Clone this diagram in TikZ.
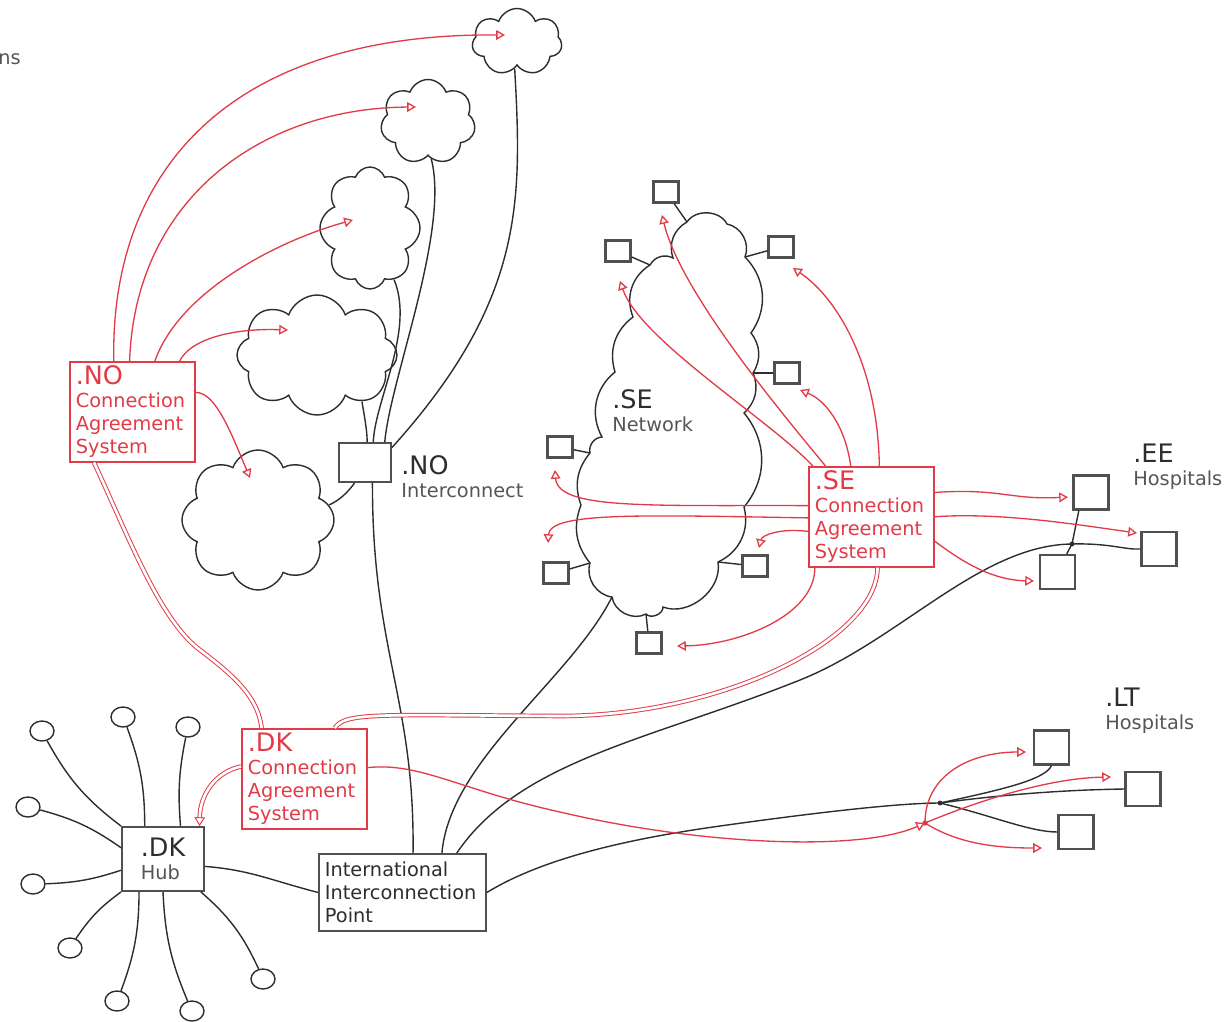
\documentclass[tikz,border=0pt]{standalone}
\usepackage{fontspec}
\setmainfont{DejaVu Sans}
\usetikzlibrary{shapes.symbols,shapes.geometric,arrows.meta}

\definecolor{casred}{RGB}{226,58,70}
\definecolor{ink}{RGB}{45,45,45}
\definecolor{boxgray}{RGB}{80,80,80}
\definecolor{labelgray}{RGB}{85,85,85}

\begin{document}
\begin{tikzpicture}[x=0.02cm, y=-0.02cm, font=\fontsize{11}{13}\selectfont,
  wire/.style={draw=ink, line width=0.8pt},
  link/.style={draw=casred, line width=0.75pt, -{Triangle[open, length=5pt, width=5.5pt]}},
  twin/.style={draw=casred, line width=0.55pt, double=white, double distance=1.5pt},
  cas/.style={draw=casred, text=casred, line width=0.9pt, align=left, anchor=north west,
    inner xsep=0.12cm, inner ysep=0.05cm, text width=2.26cm, minimum height=2cm},
  hub/.style={draw=boxgray, text=ink, line width=1.1pt, align=left},
  puff/.style={cloud, cloud puffs=7, cloud puff arc=140, cloud ignores aspect, draw=ink,
    line width=0.8pt, inner sep=0pt},
  site/.style={draw=boxgray, line width=1.2pt, minimum width=0.5cm, minimum height=0.42cm, inner sep=0pt},
  hosp/.style={draw=boxgray, line width=1.2pt, minimum width=0.7cm, minimum height=0.68cm, inner sep=0pt},
  leaf/.style={ellipse, draw=ink, line width=0.8pt, minimum width=0.48cm, minimum height=0.4cm, inner sep=0pt},
  tag/.style={align=left, text=ink, inner sep=0pt}]

% --- canvas ---
\useasboundingbox (0,0) rectangle (1227,1021);

% Helper: larger first line (country code)
\newcommand{\tld}[1]{{\fontsize{14.5}{16}\selectfont #1}}

\node[tag, anchor=base west, text=labelgray] (cut) at (-2,64) {ns};

% --- .NO side ---
\node[puff, minimum width=1.8cm, minimum height=1.34cm] (c1) at (517,42) {};
\node[puff, minimum width=1.9cm, minimum height=1.7cm] (c2) at (428,122) {};
\node[puff, cloud puffs=8, minimum width=2.0cm, minimum height=2.44cm] (c3) at (370,228) {};
\node[puff, cloud puffs=8, minimum width=3.2cm, minimum height=2.4cm] (c4) at (317,355) {};
\node[puff, cloud puffs=8, minimum width=3.04cm, minimum height=2.8cm] (c5) at (258,520) {};

\node[cas] (noCAS) at (69,361) {\tld{.NO}\\Connection\\Agreement\\System};
\node[hub, minimum width=1.04cm, minimum height=0.78cm] (noIC) at (365,462.5) {};
\node[tag, anchor=west] (noICtag) at (401,477) {\tld{.NO}\\\textcolor{labelgray}{Interconnect}};

% --- .SE side ---
% outline of the .SE network (clockwise, one puff between two points)
\coordinate (se1) at (687,222);   \coordinate (se2) at (727,224);
\coordinate (se3) at (745,257);   \coordinate (se4) at (751,333);
\coordinate (se5) at (753,373);   \coordinate (se6) at (744,413);
\coordinate (se7) at (744,507);   \coordinate (se8) at (718,562);
\coordinate (se9) at (663,607);   \coordinate (se10) at (646,614);
\coordinate (se11) at (612,597);  \coordinate (se12) at (590,563);
\coordinate (se13) at (581,505);  \coordinate (se14) at (590,453);
\coordinate (se15) at (602,437);  \coordinate (se16) at (615,372);
\coordinate (se17) at (633,317);  \coordinate (se18) at (650,265);
\coordinate (se19) at (673,258);
\draw[wire] (se1) to[bend left=60] (se2) to[bend left=50] (se3) to[bend left=40] (se4)
  to[bend left=35] (se5) to[bend left=35] (se6) to[bend left=40] (se7)
  to[bend left=40] (se8) to[bend left=60] (se9) to[bend left=70] (se10)
  to[bend left=55] (se11) to[bend left=50] (se12) to[bend left=30] (se13)
  to[bend left=30] (se14) to[bend left=50] (se15) to[bend left=40] (se16)
  to[bend left=35] (se17) to[bend left=40] (se18) to[bend left=45] (se19)
  to[bend left=40] (se1);
\node[tag, anchor=north west] (seTag) at (612,389) {\tld{.SE}\\\textcolor{labelgray}{Network}};
\node[cas] (seCAS) at (808,466) {\tld{.SE}\\Connection\\Agreement\\System};

\foreach \n/\p in {s1/{666,192}, s2/{618,251}, s3/{781,247}, s4/{787,373},
                   s5/{560,447}, s6/{556,573}, s7/{755,566}, s8/{649,643}}
  \node[site] (\n) at (\p) {};

% --- .EE and .LT hospitals ---
\node[hosp] (ee1) at (1091,492.5) {};
\node[hosp] (ee2) at (1159,549) {};
\node[hosp] (ee3) at (1057.5,572) {};
\node[tag, anchor=north west] (eeTag) at (1133,444) {\tld{.EE}\\\textcolor{labelgray}{Hospitals}};

\node[hosp] (lt1) at (1051.5,747.5) {};
\node[hosp] (lt2) at (1143,789) {};
\node[hosp] (lt3) at (1076,832) {};
\node[tag, anchor=north west] (ltTag) at (1105,688) {\tld{.LT}\\\textcolor{labelgray}{Hospitals}};

% --- .DK side ---
\node[cas] (dkCAS) at (241,728) {\tld{.DK}\\Connection\\Agreement\\System};
\node[hub, minimum width=1.64cm, minimum height=1.28cm] (dkHub) at (163,859) {\tld{.DK}\\\textcolor{labelgray}{Hub}};
\node[hub, anchor=north west, inner xsep=0.12cm, inner ysep=0.05cm, text width=3.1cm,
  minimum height=1.54cm] (iip) at (318,853) {International\\Interconnection\\Point};

\foreach \n/\p in {o1/{42,731}, o2/{123,717}, o3/{188,727}, o4/{28,807}, o5/{33,884},
                   o6/{70,948}, o7/{117,1001}, o8/{192,1011}, o9/{263,979}}
  \node[leaf] (\n) at (\p) {};

% junctions and arrow targets
\coordinate (eeJ) at (1072,544);
\coordinate (ltJ) at (940,803);
\coordinate (ltR) at (925,823);
\coordinate (tC1) at (505,35);
\coordinate (tC2) at (416,107);
\coordinate (tC3) at (353,220);
\coordinate (tC4) at (288,330);
\coordinate (tC5) at (250,478);
\coordinate (tS1) at (620,281);
\coordinate (tS2) at (662,215);
\coordinate (tS3) at (800,390);
\coordinate (tS4) at (793,268);
\coordinate (tS5) at (555,470);
\coordinate (tS6) at (548,543);
\coordinate (tS7) at (759,548);
\coordinate (tS8) at (677,646);
\coordinate (tE1) at (1068,497);
\coordinate (tE2) at (1137,533);
\coordinate (tE3) at (1034,581);
\coordinate (tL1) at (1026,752);
\coordinate (tL2) at (1111,777);
\coordinate (tL3) at (1042,848);

% --- network wires ---
\draw[wire] (c4.-46) .. controls (366,425) and (367,432) .. (noIC.84);
\draw[wire] (c3.-65) .. controls (415,330) and (375,400) .. (noIC.68);
\draw[wire] (c2.-85) .. controls (450,230) and (390,380) .. (noIC.46);
\draw[wire] (c1.-95) .. controls (522,200) and (525,300) .. (noIC.29);
\draw[wire] (noIC.243) .. controls (348,492) and (340,500) .. (c5.12);
\draw[wire] (noIC.-70) .. controls (372,650) and (415,700) .. (iip.75);

\foreach \n/\c in {s1/se1, s2/se18, s3/se3, s4/se5, s5/se14, s6/se12, s7/se8, s8/se10}
  \draw[wire] (\n) -- (\c);

\draw[wire] (se11) .. controls (570,680) and (450,760) .. (iip.45);
\draw[wire] (iip.36) .. controls (520,760) and (650,740) .. (800,680)
  .. controls (900,640) and (980,545) .. (eeJ);
\draw[wire] (iip.east) .. controls (540,860) and (620,840) .. (720,826)
  .. controls (820,812) and (900,803) .. (ltJ);
\draw[wire] (dkHub.-10) .. controls (250,870) and (270,880) .. (iip.west);

\draw[wire] (eeJ) -- (ee1.236);
\draw[wire] (eeJ) -- (ee3.63);
\draw[wire] (eeJ) .. controls (1110,543) and (1125,550) .. (ee2.west);
\fill[ink] (eeJ) circle (1.4pt);

\draw[wire] (ltJ) .. controls (1000,790) and (1045,780) .. (lt1.south);
\draw[wire] (ltJ) .. controls (1000,795) and (1060,790) .. (lt2.west);
\draw[wire] (ltJ) .. controls (990,815) and (1030,832) .. (lt3.west);
\fill[ink] (ltJ) circle (1.4pt);

\foreach \n/\a/\b in {o1/north west/-12, o2/119/10, o3/62/-8, o4/165/10, o5/195/-8,
                      o6/south west/10, o7/234/-10, o8/270/10, o9/-41/-12}
  \draw[wire] (\n) to[bend left=\b] (dkHub.\a);

% --- connection agreements: .NO ---
\draw[link] (noCAS.110) .. controls (110,170) and (230,33) .. (tC1);
\draw[link] (noCAS.93) .. controls (135,200) and (260,108) .. (tC2);
\draw[link] (noCAS.66) .. controls (180,290) and (280,240) .. (tC3);
\draw[link] (noCAS.47) .. controls (190,340) and (230,328) .. (tC4);
\draw[link] (noCAS.17) .. controls (215,392) and (230,430) .. (tC5);

% --- connection agreements: .SE ---
\draw[link] (seCAS.139) .. controls (770,420) and (640,340) .. (tS1);
\draw[link] (seCAS.132) .. controls (775,405) and (680,290) .. (tS2);
\draw[link] (seCAS.112) .. controls (845,425) and (825,400) .. (tS3);
\draw[link] (seCAS.81) .. controls (878,370) and (840,300) .. (tS4);
\draw[link] (seCAS.170) .. controls (650,505) and (558,510) .. (tS5);
\draw[link] (seCAS.181) .. controls (640,515) and (550,512) .. (tS6);
\draw[link] (seCAS.193) .. controls (780,528) and (762,535) .. (tS7);
\draw[link] (seCAS.222) .. controls (815,615) and (740,645) .. (tS8);
\draw[link] (seCAS.21) .. controls (1000,488) and (1010,500) .. (tE1);
\draw[link] (seCAS.east) .. controls (1000,512) and (1080,525) .. (tE2);
\draw[link] (seCAS.-21) .. controls (960,560) and (990,580) .. (tE3);

% --- connection agreements: .DK ---
\draw[link] (dkCAS.10) .. controls (420,762) and (460,790) .. (560,812)
  .. controls (700,845) and (860,852) .. (ltR);
\draw[link] (ltR) .. controls (925,775) and (970,752) .. (tL1);
\draw[link] (ltR) .. controls (980,800) and (1050,778) .. (tL2);
\draw[link] (ltR) .. controls (960,845) and (1000,848) .. (tL3);
\fill[casred] (ltR) circle (1.5pt);

% agreements between the systems
\draw[twin] (noCAS.233) .. controls (130,540) and (160,620) .. (200,650)
  .. controls (240,680) and (258,700) .. (dkCAS.130);
\draw[twin] (dkCAS.59) .. controls (345,712) and (380,715) .. (560,716)
  .. controls (720,716) and (877,640) .. (seCAS.-83);
\draw[twin, -{Triangle[open, length=5pt, width=6pt]}] (dkCAS.169)
  .. controls (215,772) and (200,795) .. (dkHub.42);

\end{tikzpicture}
\end{document}
